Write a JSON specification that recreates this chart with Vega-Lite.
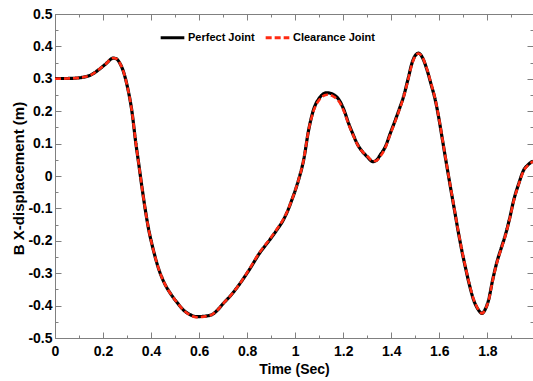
{
  "$schema": "https://vega.github.io/schema/vega-lite/v6.json",
  "width": 478,
  "height": 324,
  "autosize": {"type": "none"},
  "padding": {"left": 55, "top": 14, "right": 0, "bottom": 43},
  "background": "white",
  "config": {
    "view": {"stroke": null},
    "axis": {
      "grid": false,
      "labelFont": "Liberation Sans, Arial, sans-serif",
      "labelFontSize": 14,
      "labelFontWeight": "bold",
      "labelColor": "black",
      "titleFont": "Liberation Sans, Arial, sans-serif",
      "titleFontSize": 14,
      "titleFontWeight": "bold",
      "titleColor": "black",
      "domainColor": "#808080",
      "domainWidth": 1,
      "tickColor": "#808080",
      "tickWidth": 1
    },
    "legend": {
      "labelFont": "Liberation Sans, Arial, sans-serif",
      "labelFontSize": 11,
      "labelFontWeight": "bold",
      "labelColor": "black"
    }
  },
  "datasets": {
    "perfect": [
      {"t": 0, "y": 0.301, "s": "Perfect Joint"},
      {"t": 0.05, "y": 0.301, "s": "Perfect Joint"},
      {"t": 0.1, "y": 0.303, "s": "Perfect Joint"},
      {"t": 0.125, "y": 0.306, "s": "Perfect Joint"},
      {"t": 0.15, "y": 0.312, "s": "Perfect Joint"},
      {"t": 0.18, "y": 0.327, "s": "Perfect Joint"},
      {"t": 0.21, "y": 0.345, "s": "Perfect Joint"},
      {"t": 0.243, "y": 0.364, "s": "Perfect Joint"},
      {"t": 0.255, "y": 0.362, "s": "Perfect Joint"},
      {"t": 0.27, "y": 0.348, "s": "Perfect Joint"},
      {"t": 0.285, "y": 0.322, "s": "Perfect Joint"},
      {"t": 0.3, "y": 0.28, "s": "Perfect Joint"},
      {"t": 0.322, "y": 0.19, "s": "Perfect Joint"},
      {"t": 0.335, "y": 0.11, "s": "Perfect Joint"},
      {"t": 0.35, "y": 0.03, "s": "Perfect Joint"},
      {"t": 0.364, "y": -0.045, "s": "Perfect Joint"},
      {"t": 0.375, "y": -0.1, "s": "Perfect Joint"},
      {"t": 0.39, "y": -0.165, "s": "Perfect Joint"},
      {"t": 0.41, "y": -0.23, "s": "Perfect Joint"},
      {"t": 0.43, "y": -0.283, "s": "Perfect Joint"},
      {"t": 0.455, "y": -0.33, "s": "Perfect Joint"},
      {"t": 0.48, "y": -0.362, "s": "Perfect Joint"},
      {"t": 0.51, "y": -0.392, "s": "Perfect Joint"},
      {"t": 0.535, "y": -0.414, "s": "Perfect Joint"},
      {"t": 0.56, "y": -0.427, "s": "Perfect Joint"},
      {"t": 0.59, "y": -0.434, "s": "Perfect Joint"},
      {"t": 0.62, "y": -0.433, "s": "Perfect Joint"},
      {"t": 0.653, "y": -0.428, "s": "Perfect Joint"},
      {"t": 0.675, "y": -0.415, "s": "Perfect Joint"},
      {"t": 0.701, "y": -0.393, "s": "Perfect Joint"},
      {"t": 0.73, "y": -0.37, "s": "Perfect Joint"},
      {"t": 0.764, "y": -0.338, "s": "Perfect Joint"},
      {"t": 0.8125, "y": -0.285, "s": "Perfect Joint"},
      {"t": 0.85, "y": -0.24, "s": "Perfect Joint"},
      {"t": 0.896, "y": -0.195, "s": "Perfect Joint"},
      {"t": 0.925, "y": -0.165, "s": "Perfect Joint"},
      {"t": 0.951, "y": -0.135, "s": "Perfect Joint"},
      {"t": 0.97, "y": -0.105, "s": "Perfect Joint"},
      {"t": 0.986, "y": -0.074, "s": "Perfect Joint"},
      {"t": 1.0, "y": -0.045, "s": "Perfect Joint"},
      {"t": 1.014, "y": -0.012, "s": "Perfect Joint"},
      {"t": 1.035, "y": 0.049, "s": "Perfect Joint"},
      {"t": 1.056, "y": 0.142, "s": "Perfect Joint"},
      {"t": 1.076, "y": 0.204, "s": "Perfect Joint"},
      {"t": 1.1, "y": 0.24, "s": "Perfect Joint"},
      {"t": 1.132, "y": 0.257, "s": "Perfect Joint"},
      {"t": 1.16, "y": 0.251, "s": "Perfect Joint"},
      {"t": 1.1875, "y": 0.229, "s": "Perfect Joint"},
      {"t": 1.205, "y": 0.2, "s": "Perfect Joint"},
      {"t": 1.222, "y": 0.163, "s": "Perfect Joint"},
      {"t": 1.24, "y": 0.13, "s": "Perfect Joint"},
      {"t": 1.257, "y": 0.101, "s": "Perfect Joint"},
      {"t": 1.28, "y": 0.075, "s": "Perfect Joint"},
      {"t": 1.299, "y": 0.06, "s": "Perfect Joint"},
      {"t": 1.324, "y": 0.044, "s": "Perfect Joint"},
      {"t": 1.34, "y": 0.05, "s": "Perfect Joint"},
      {"t": 1.354, "y": 0.065, "s": "Perfect Joint"},
      {"t": 1.375, "y": 0.09, "s": "Perfect Joint"},
      {"t": 1.395, "y": 0.13, "s": "Perfect Joint"},
      {"t": 1.417, "y": 0.173, "s": "Perfect Joint"},
      {"t": 1.435, "y": 0.21, "s": "Perfect Joint"},
      {"t": 1.451, "y": 0.245, "s": "Perfect Joint"},
      {"t": 1.47, "y": 0.3, "s": "Perfect Joint"},
      {"t": 1.486, "y": 0.348, "s": "Perfect Joint"},
      {"t": 1.5, "y": 0.372, "s": "Perfect Joint"},
      {"t": 1.514, "y": 0.379, "s": "Perfect Joint"},
      {"t": 1.53, "y": 0.365, "s": "Perfect Joint"},
      {"t": 1.549, "y": 0.327, "s": "Perfect Joint"},
      {"t": 1.565, "y": 0.285, "s": "Perfect Joint"},
      {"t": 1.583, "y": 0.235, "s": "Perfect Joint"},
      {"t": 1.6, "y": 0.17, "s": "Perfect Joint"},
      {"t": 1.611, "y": 0.121, "s": "Perfect Joint"},
      {"t": 1.628, "y": 0.045, "s": "Perfect Joint"},
      {"t": 1.646, "y": -0.033, "s": "Perfect Joint"},
      {"t": 1.663, "y": -0.105, "s": "Perfect Joint"},
      {"t": 1.68, "y": -0.177, "s": "Perfect Joint"},
      {"t": 1.695, "y": -0.235, "s": "Perfect Joint"},
      {"t": 1.708, "y": -0.28, "s": "Perfect Joint"},
      {"t": 1.725, "y": -0.335, "s": "Perfect Joint"},
      {"t": 1.743, "y": -0.383, "s": "Perfect Joint"},
      {"t": 1.76, "y": -0.41, "s": "Perfect Joint"},
      {"t": 1.778, "y": -0.424, "s": "Perfect Joint"},
      {"t": 1.792, "y": -0.41, "s": "Perfect Joint"},
      {"t": 1.806, "y": -0.38, "s": "Perfect Joint"},
      {"t": 1.82, "y": -0.328, "s": "Perfect Joint"},
      {"t": 1.84, "y": -0.265, "s": "Perfect Joint"},
      {"t": 1.858, "y": -0.222, "s": "Perfect Joint"},
      {"t": 1.875, "y": -0.182, "s": "Perfect Joint"},
      {"t": 1.893, "y": -0.13, "s": "Perfect Joint"},
      {"t": 1.91, "y": -0.074, "s": "Perfect Joint"},
      {"t": 1.93, "y": -0.025, "s": "Perfect Joint"},
      {"t": 1.951, "y": 0.018, "s": "Perfect Joint"},
      {"t": 1.97, "y": 0.035, "s": "Perfect Joint"},
      {"t": 1.99, "y": 0.046, "s": "Perfect Joint"}
    ],
    "clearance": [
      {"t": 0, "y": 0.3, "s": "Clearance Joint"},
      {"t": 0.05, "y": 0.301, "s": "Clearance Joint"},
      {"t": 0.1, "y": 0.303, "s": "Clearance Joint"},
      {"t": 0.125, "y": 0.306, "s": "Clearance Joint"},
      {"t": 0.15, "y": 0.312, "s": "Clearance Joint"},
      {"t": 0.18, "y": 0.327, "s": "Clearance Joint"},
      {"t": 0.21, "y": 0.345, "s": "Clearance Joint"},
      {"t": 0.243, "y": 0.364, "s": "Clearance Joint"},
      {"t": 0.255, "y": 0.362, "s": "Clearance Joint"},
      {"t": 0.27, "y": 0.348, "s": "Clearance Joint"},
      {"t": 0.285, "y": 0.322, "s": "Clearance Joint"},
      {"t": 0.3, "y": 0.28, "s": "Clearance Joint"},
      {"t": 0.322, "y": 0.19, "s": "Clearance Joint"},
      {"t": 0.335, "y": 0.11, "s": "Clearance Joint"},
      {"t": 0.35, "y": 0.03, "s": "Clearance Joint"},
      {"t": 0.364, "y": -0.045, "s": "Clearance Joint"},
      {"t": 0.375, "y": -0.1, "s": "Clearance Joint"},
      {"t": 0.39, "y": -0.165, "s": "Clearance Joint"},
      {"t": 0.41, "y": -0.23, "s": "Clearance Joint"},
      {"t": 0.43, "y": -0.283, "s": "Clearance Joint"},
      {"t": 0.455, "y": -0.33, "s": "Clearance Joint"},
      {"t": 0.48, "y": -0.362, "s": "Clearance Joint"},
      {"t": 0.51, "y": -0.392, "s": "Clearance Joint"},
      {"t": 0.535, "y": -0.414, "s": "Clearance Joint"},
      {"t": 0.56, "y": -0.428, "s": "Clearance Joint"},
      {"t": 0.59, "y": -0.436, "s": "Clearance Joint"},
      {"t": 0.62, "y": -0.434, "s": "Clearance Joint"},
      {"t": 0.653, "y": -0.428, "s": "Clearance Joint"},
      {"t": 0.675, "y": -0.415, "s": "Clearance Joint"},
      {"t": 0.701, "y": -0.393, "s": "Clearance Joint"},
      {"t": 0.73, "y": -0.37, "s": "Clearance Joint"},
      {"t": 0.764, "y": -0.338, "s": "Clearance Joint"},
      {"t": 0.8125, "y": -0.283, "s": "Clearance Joint"},
      {"t": 0.85, "y": -0.238, "s": "Clearance Joint"},
      {"t": 0.896, "y": -0.193, "s": "Clearance Joint"},
      {"t": 0.925, "y": -0.163, "s": "Clearance Joint"},
      {"t": 0.951, "y": -0.133, "s": "Clearance Joint"},
      {"t": 0.97, "y": -0.104, "s": "Clearance Joint"},
      {"t": 0.986, "y": -0.074, "s": "Clearance Joint"},
      {"t": 1.0, "y": -0.045, "s": "Clearance Joint"},
      {"t": 1.014, "y": -0.012, "s": "Clearance Joint"},
      {"t": 1.035, "y": 0.049, "s": "Clearance Joint"},
      {"t": 1.056, "y": 0.142, "s": "Clearance Joint"},
      {"t": 1.076, "y": 0.2, "s": "Clearance Joint"},
      {"t": 1.1, "y": 0.235, "s": "Clearance Joint"},
      {"t": 1.132, "y": 0.251, "s": "Clearance Joint"},
      {"t": 1.16, "y": 0.245, "s": "Clearance Joint"},
      {"t": 1.1875, "y": 0.224, "s": "Clearance Joint"},
      {"t": 1.205, "y": 0.196, "s": "Clearance Joint"},
      {"t": 1.222, "y": 0.16, "s": "Clearance Joint"},
      {"t": 1.24, "y": 0.128, "s": "Clearance Joint"},
      {"t": 1.257, "y": 0.1, "s": "Clearance Joint"},
      {"t": 1.28, "y": 0.075, "s": "Clearance Joint"},
      {"t": 1.299, "y": 0.062, "s": "Clearance Joint"},
      {"t": 1.324, "y": 0.046, "s": "Clearance Joint"},
      {"t": 1.34, "y": 0.048, "s": "Clearance Joint"},
      {"t": 1.354, "y": 0.06, "s": "Clearance Joint"},
      {"t": 1.375, "y": 0.087, "s": "Clearance Joint"},
      {"t": 1.395, "y": 0.127, "s": "Clearance Joint"},
      {"t": 1.417, "y": 0.17, "s": "Clearance Joint"},
      {"t": 1.435, "y": 0.207, "s": "Clearance Joint"},
      {"t": 1.451, "y": 0.243, "s": "Clearance Joint"},
      {"t": 1.47, "y": 0.297, "s": "Clearance Joint"},
      {"t": 1.486, "y": 0.345, "s": "Clearance Joint"},
      {"t": 1.5, "y": 0.37, "s": "Clearance Joint"},
      {"t": 1.514, "y": 0.378, "s": "Clearance Joint"},
      {"t": 1.53, "y": 0.366, "s": "Clearance Joint"},
      {"t": 1.549, "y": 0.329, "s": "Clearance Joint"},
      {"t": 1.565, "y": 0.287, "s": "Clearance Joint"},
      {"t": 1.583, "y": 0.237, "s": "Clearance Joint"},
      {"t": 1.6, "y": 0.172, "s": "Clearance Joint"},
      {"t": 1.611, "y": 0.123, "s": "Clearance Joint"},
      {"t": 1.628, "y": 0.047, "s": "Clearance Joint"},
      {"t": 1.646, "y": -0.031, "s": "Clearance Joint"},
      {"t": 1.663, "y": -0.103, "s": "Clearance Joint"},
      {"t": 1.68, "y": -0.175, "s": "Clearance Joint"},
      {"t": 1.695, "y": -0.233, "s": "Clearance Joint"},
      {"t": 1.708, "y": -0.278, "s": "Clearance Joint"},
      {"t": 1.725, "y": -0.333, "s": "Clearance Joint"},
      {"t": 1.743, "y": -0.381, "s": "Clearance Joint"},
      {"t": 1.76, "y": -0.409, "s": "Clearance Joint"},
      {"t": 1.778, "y": -0.424, "s": "Clearance Joint"},
      {"t": 1.792, "y": -0.411, "s": "Clearance Joint"},
      {"t": 1.806, "y": -0.382, "s": "Clearance Joint"},
      {"t": 1.82, "y": -0.33, "s": "Clearance Joint"},
      {"t": 1.84, "y": -0.267, "s": "Clearance Joint"},
      {"t": 1.858, "y": -0.224, "s": "Clearance Joint"},
      {"t": 1.875, "y": -0.184, "s": "Clearance Joint"},
      {"t": 1.893, "y": -0.132, "s": "Clearance Joint"},
      {"t": 1.91, "y": -0.076, "s": "Clearance Joint"},
      {"t": 1.93, "y": -0.027, "s": "Clearance Joint"},
      {"t": 1.951, "y": 0.016, "s": "Clearance Joint"},
      {"t": 1.97, "y": 0.034, "s": "Clearance Joint"},
      {"t": 1.99, "y": 0.045, "s": "Clearance Joint"}
    ]
  },
  "resolve": {"axis": {"x": "independent", "y": "independent"}},
  "layer": [
    {
      "data": {"name": "perfect"},
      "mark": {"type": "line", "strokeWidth": 3.2, "interpolate": "monotone", "clip": true},
      "encoding": {
        "x": {"field": "t", "type": "quantitative",
          "scale": {"domain": [0, 1.99], "nice": false, "zero": false},
          "axis": {"orient": "bottom", "values": [0, 0.2, 0.4, 0.6, 0.8, 1, 1.2, 1.4, 1.6, 1.8], "ticks": false, "labelPadding": 6, "labelExpr": "'' + datum.value", "title": "Time (Sec)", "titlePadding": 4, "labelFlush": false, "labelOverlap": false}},
        "y": {"field": "y", "type": "quantitative",
          "scale": {"domain": [-0.5, 0.5], "nice": false, "zero": false},
          "axis": {"orient": "left", "values": [-0.5, -0.4, -0.3, -0.2, -0.1, 0, 0.1, 0.2, 0.3, 0.4, 0.5], "ticks": false, "labelPadding": 3, "labelExpr": "'' + datum.value", "title": "B X-displacement (m)", "titleFontSize": 15, "titleX": -32, "titleY": 164, "titleBaseline": "alphabetic", "labelFlush": false, "labelOverlap": false}},
        "color": {"field": "s", "type": "nominal", "title": null,
          "scale": {"domain": ["Perfect Joint", "Clearance Joint"], "range": ["#000000", "#ff2a12"]},
          "legend": {"orient": "none", "legendX": 104, "legendY": 10, "direction": "horizontal", "symbolType": "stroke", "symbolSize": 560, "symbolStrokeWidth": 3, "columnPadding": 4, "labelOffset": 2, "padding": 0}},
        "strokeDash": {"field": "s", "type": "nominal", "title": null,
          "scale": {"domain": ["Perfect Joint", "Clearance Joint"], "range": [[1, 0], [6, 3]]}}
      }
    },
    {
      "data": {"name": "clearance"},
      "mark": {"type": "line", "strokeWidth": 2.6, "interpolate": "monotone", "clip": true},
      "encoding": {
        "x": {"field": "t", "type": "quantitative",
          "axis": {"orient": "bottom", "values": [0, 0.2, 0.4, 0.6, 0.8, 1, 1.2, 1.4, 1.6, 1.8], "tickSize": -6, "labels": false, "domain": true, "title": null}},
        "y": {"field": "y", "type": "quantitative",
          "axis": {"orient": "left", "values": [-0.5, -0.4, -0.3, -0.2, -0.1, 0, 0.1, 0.2, 0.3, 0.4, 0.5], "tickSize": -6, "labels": false, "domain": true, "title": null}},
        "color": {"field": "s", "type": "nominal", "title": null},
        "strokeDash": {"field": "s", "type": "nominal", "title": null}
      }
    },
    {
      "data": {"name": "perfect"},
      "mark": {"type": "point", "opacity": 0},
      "encoding": {
        "x": {"field": "t", "type": "quantitative",
          "axis": {"orient": "bottom", "values": [0.1, 0.3, 0.5, 0.7, 0.9, 1.1, 1.3, 1.5, 1.7, 1.9], "tickSize": -3, "labels": false, "domain": false, "title": null}},
        "y": {"field": "y", "type": "quantitative",
          "axis": {"orient": "left", "values": [-0.45, -0.35, -0.25, -0.15, -0.05, 0.05, 0.15, 0.25, 0.35, 0.45], "tickSize": -3, "labels": false, "domain": false, "title": null}}
      }
    },
    {
      "data": {"name": "perfect"},
      "mark": {"type": "point", "opacity": 0},
      "encoding": {
        "x": {"field": "t", "type": "quantitative",
          "axis": {"orient": "top", "values": [0, 0.2, 0.4, 0.6, 0.8, 1, 1.2, 1.4, 1.6, 1.8], "tickSize": -6, "labels": false, "domain": true, "title": null}},
        "y": {"field": "y", "type": "quantitative",
          "axis": {"orient": "right", "values": [-0.5, -0.4, -0.3, -0.2, -0.1, 0, 0.1, 0.2, 0.3, 0.4, 0.5], "tickSize": -6, "labels": false, "domain": true, "title": null}}
      }
    },
    {
      "data": {"name": "perfect"},
      "mark": {"type": "point", "opacity": 0},
      "encoding": {
        "x": {"field": "t", "type": "quantitative",
          "axis": {"orient": "top", "values": [0.1, 0.3, 0.5, 0.7, 0.9, 1.1, 1.3, 1.5, 1.7, 1.9], "tickSize": -3, "labels": false, "domain": false, "title": null}},
        "y": {"field": "y", "type": "quantitative",
          "axis": {"orient": "right", "values": [-0.45, -0.35, -0.25, -0.15, -0.05, 0.05, 0.15, 0.25, 0.35, 0.45], "tickSize": -3, "labels": false, "domain": false, "title": null}}
      }
    }
  ]
}
